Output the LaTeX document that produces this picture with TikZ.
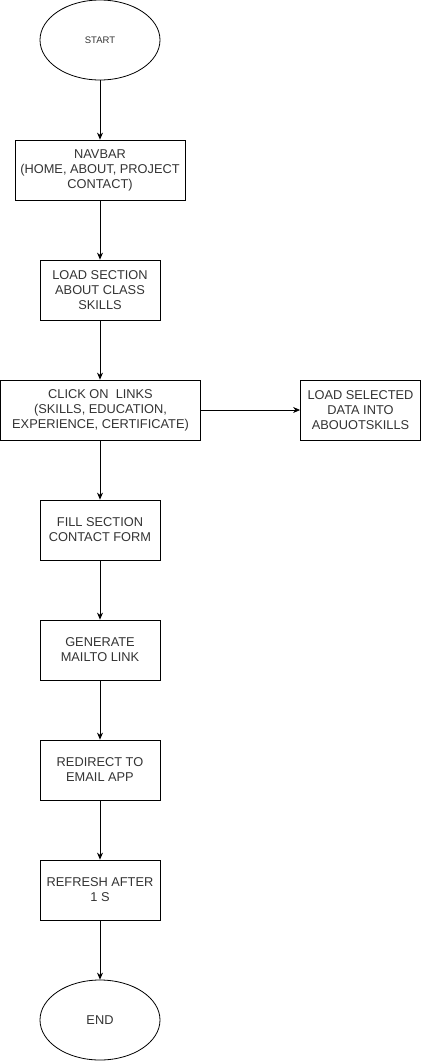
\documentclass[tikz,border=0pt]{standalone}
\usepackage{fontspec}
\setmainfont{Liberation Sans}
\usetikzlibrary{shapes.geometric,arrows.meta}
\begin{document}
\begin{tikzpicture}[x=1pt,y=-1pt,
  stepbox/.style={draw,rectangle,minimum width=#1pt,minimum height=60pt,inner sep=0pt,align=center,font=\fontsize{12.8}{15}\selectfont,text=black!80,line width=0.8pt},
  stepbox/.default=120,
  term/.style={draw,ellipse,minimum width=120pt,minimum height=80pt,inner sep=0pt,align=center,text=black!80,line width=0.8pt},
  conn/.style={-{Stealth[length=7pt,width=6pt]},line width=0.8pt}]
\useasboundingbox (0,0) rectangle (421,1061);
\node[term,font=\fontsize{9.5}{11}\selectfont] (start) at (100,40) {START};
\node[stepbox=170] (nav) at (100,170) {NAVBAR\\(HOME, ABOUT, PROJECT\\CONTACT)};
\node[stepbox] (load) at (100,290) {LOAD SECTION\\ABOUT CLASS\\SKILLS};
\node[stepbox=200] (click) at (100.5,410) {CLICK ON\ \ LINKS\\(SKILLS, EDUCATION,\\EXPERIENCE, CERTIFICATE)};
\node[stepbox] (sel) at (360.5,410) {LOAD SELECTED\\DATA INTO\\ABOUOTSKILLS};
\node[stepbox] (fill) at (100,530) {FILL SECTION\\CONTACT FORM};
\node[stepbox] (gen) at (100,650) {GENERATE\\MAILTO LINK};
\node[stepbox] (redir) at (100,770) {REDIRECT TO\\EMAIL APP};
\node[stepbox] (ref) at (100,890) {REFRESH AFTER\\1 S};
\node[term,font=\fontsize{12.8}{15}\selectfont] (end) at (100,1020) {END};
\draw[conn] (start) -- (nav);
\draw[conn] (nav) -- (load);
\draw[conn] (load) -- (load|-click.north);
\draw[conn] (click) -- (sel);
\draw[conn] (click.south-|fill) -- (fill);
\draw[conn] (fill) -- (gen);
\draw[conn] (gen) -- (redir);
\draw[conn] (redir) -- (ref);
\draw[conn] (ref) -- (end);
\end{tikzpicture}
\end{document}
